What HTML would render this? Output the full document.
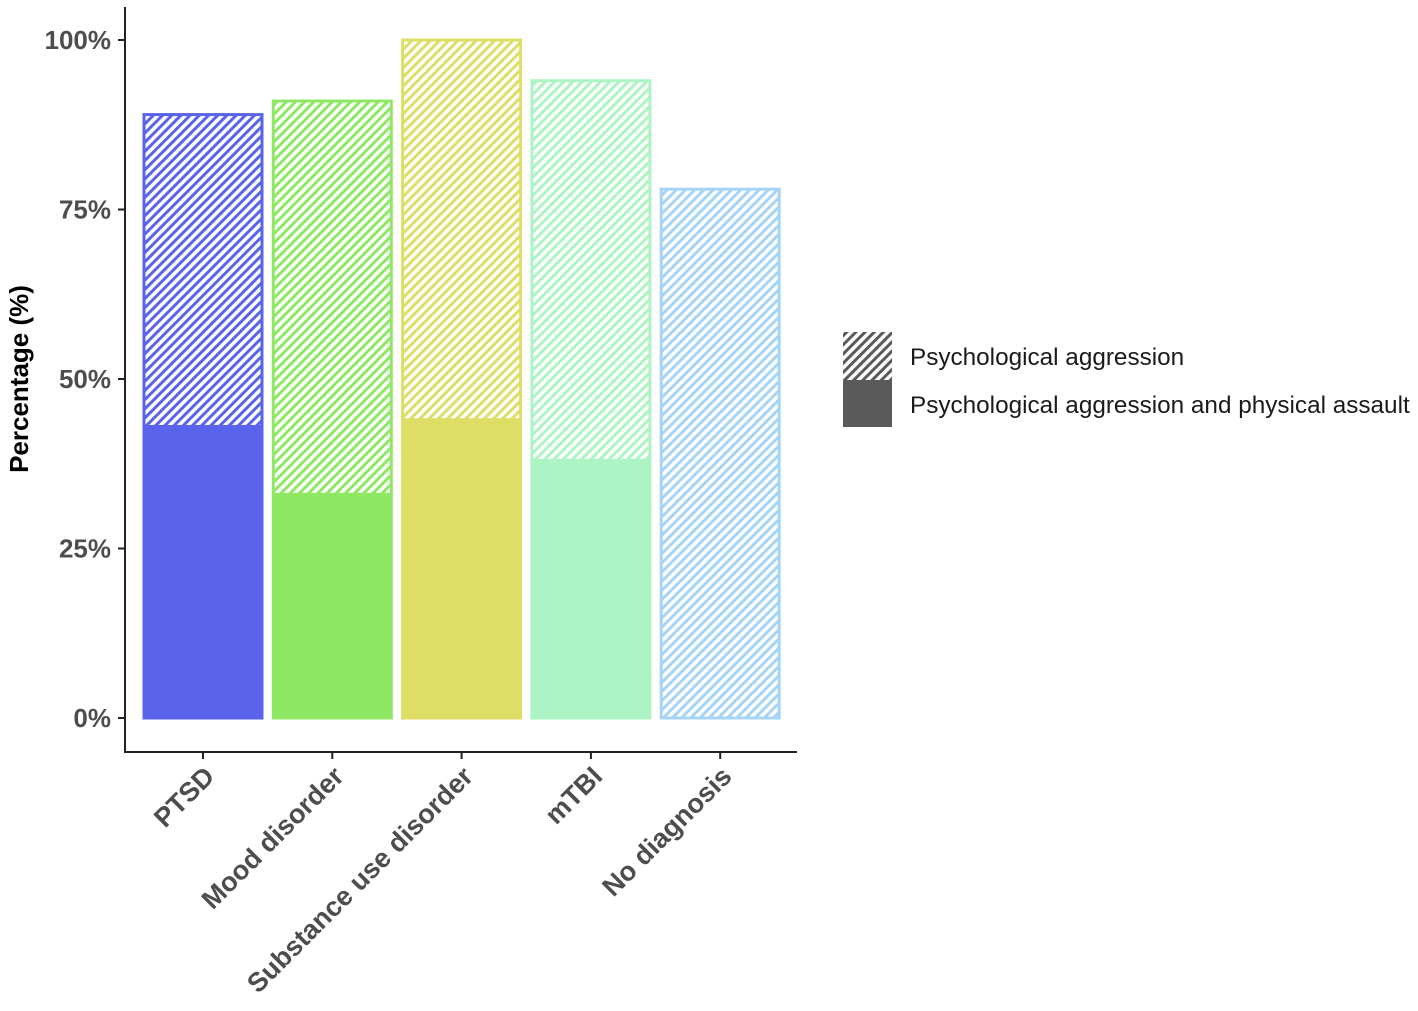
<!DOCTYPE html>
<html><head><meta charset="utf-8"><style>
body{margin:0;background:#fff}
svg text{font-family:"Liberation Sans",Arial,sans-serif}
</style></head><body>
<svg id="c" width="1418" height="1006" xmlns="http://www.w3.org/2000/svg">
<defs>
</defs>
<g id="plot"></g>
</svg>
<script>
const categories=["PTSD","Mood disorder","Substance use disorder","mTBI","No diagnosis"];
const totalValues=[89,91,100,94,78];
const physicalValues=[43,33,44,38,0];
const colors=["#5b63ec","#8fe864","#dede66","#adf4c5","#a6d4f7"];
const yTicks=[0,25,50,75,100];
const ns="http://www.w3.org/2000/svg";
const svg=document.getElementById('c'),g=document.getElementById('plot'),defs=svg.querySelector('defs');
function y(v){return 718-v*6.78;}
function xc(i){return 203+i*129.3;}
const bw=118;
function el(t,a,p){const e=document.createElementNS(ns,t);for(const k in a)e.setAttribute(k,a[k]);(p||g).appendChild(e);return e;}
colors.forEach((c,i)=>{const p=el('pattern',{id:'h'+i,patternUnits:'userSpaceOnUse',width:6.5,height:6.5,patternTransform:'rotate(45)'},defs);
el('rect',{x:0,y:0,width:6.5,height:6.5,fill:'#fff'},p);el('rect',{x:0,y:0,width:3,height:6.5,fill:c},p);});
const pl=el('pattern',{id:'hl',patternUnits:'userSpaceOnUse',width:6.5,height:6.5,patternTransform:'rotate(45)'},defs);
el('rect',{x:0,y:0,width:6.5,height:6.5,fill:'#fff'},pl);el('rect',{x:0,y:0,width:3,height:6.5,fill:'#5a5a5a'},pl);
categories.forEach((c,i)=>{
 const x=xc(i)-bw/2;
 const h=el('rect',{x:x,y:y(totalValues[i]),width:bw,height:y(physicalValues[i])-y(totalValues[i]),fill:'url(#h'+i+')',stroke:colors[i],'stroke-width':3});
 
 
 if(physicalValues[i]>0){const s=el('rect',{x:x-1.5,y:y(physicalValues[i]),width:bw+3,height:y(0)-y(physicalValues[i])+1.5,fill:colors[i]});
 
 }
 el('line',{x1:xc(i),x2:xc(i),y1:752,y2:759,stroke:'#222','stroke-width':2});
 const t=el('text',{x:0,y:0,transform:`translate(${xc(i)+13},${778}) rotate(-45)`,'text-anchor':'end','font-size':27,'font-weight':'bold',fill:'#4d4d4d'});
 t.textContent=c;
 
 
});
yTicks.forEach(v=>{el('line',{x1:118,x2:125,y1:y(v),y2:y(v),stroke:'#222','stroke-width':2});
 const t=el('text',{x:111,y:y(v)+9,'text-anchor':'end','font-size':26,'font-weight':'bold',fill:'#4d4d4d'});t.textContent=v+'%';
 
 });
el('line',{x1:125,x2:125,y1:7,y2:753,stroke:'#222','stroke-width':2});
el('line',{x1:124,x2:797,y1:752,y2:752,stroke:'#222','stroke-width':2});
const yt=el('text',{x:0,y:0,transform:'translate(28,379) rotate(-90)','text-anchor':'middle','font-size':26,'font-weight':'bold',fill:'#000'});yt.textContent='Percentage (%)';


const l1=el('rect',{x:843,y:332,width:49,height:48,fill:'url(#hl)'});


const l2=el('rect',{x:843,y:380,width:49,height:47,fill:'#5a5a5a'});


const t1=el('text',{x:910,y:365,'font-size':24.3,fill:'#1a1a1a'});t1.textContent='Psychological aggression';


const t2=el('text',{x:910,y:413,'font-size':24.3,fill:'#1a1a1a'});t2.textContent='Psychological aggression and physical assault';


</script>
</body></html>
